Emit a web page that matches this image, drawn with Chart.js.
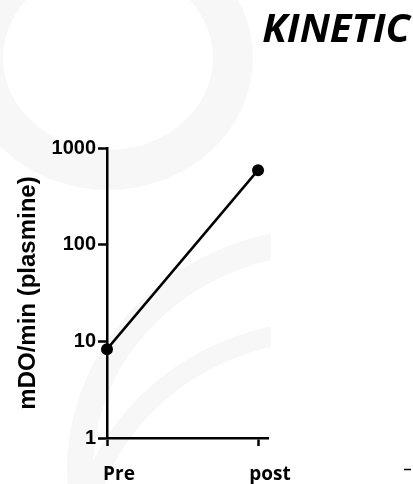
<!DOCTYPE html>
<html>
<head>
<meta charset="utf-8">
<script src="https://cdn.jsdelivr.net/npm/chart.js@4.4.1/dist/chart.umd.min.js"></script>
<style>
  html, body { margin: 0; padding: 0; background: #fff; }
  #wrap { width: 413px; height: 484px; position: relative; }
</style>
</head>
<body>
<div id="wrap"><canvas id="c" width="413" height="484"></canvas></div>
<script>
// Plasmin activity before and after
const categories = ['Pre', 'post'];
const activity = [8.3, 590];          // mDO/min
const yTicks = [1, 10, 100, 1000];
const chartTitle = 'KINETIC';
const yAxisTitle = 'mDO/min (plasmine)';

const BLACK = '#000000';
const AXIS_W = 2.5;

// faint swirl logo behind the plot
const backdrop = {
  id: 'backdrop',
  beforeDraw(chart) {
    const ctx = chart.ctx;
    ctx.save();
    ctx.fillStyle = '#ffffff';
    ctx.fillRect(0, 0, chart.width, chart.height);
    ctx.beginPath();
    ctx.rect(0, 0, 271, chart.height);
    ctx.clip();
    ctx.strokeStyle = '#f7f7f7';
    ctx.lineWidth = 40;
    ctx.beginPath();
    ctx.ellipse(108, 58, 125, 112, 0, 0, Math.PI * 2);
    ctx.stroke();
    ctx.lineWidth = 26;
    ctx.beginPath();
    ctx.ellipse(330, 470, 250, 230, 0, Math.PI * 0.95, Math.PI * 1.5);
    ctx.stroke();
    ctx.lineWidth = 20;
    ctx.beginPath();
    ctx.ellipse(330, 560, 250, 230, 0, Math.PI * 0.95, Math.PI * 1.5);
    ctx.stroke();
    ctx.fillStyle = '#ffffff';
    ctx.fillRect(222, 446, 50, 40);
    ctx.restore();
  }
};

// heading and the small mark in the lower right corner
const heading = {
  id: 'heading',
  afterDraw(chart) {
    const ctx = chart.ctx;
    ctx.save();
    ctx.fillStyle = BLACK;
    ctx.font = 'italic bold 40px "Open Sans"';
    ctx.textAlign = 'right';
    ctx.textBaseline = 'alphabetic';
    ctx.fillText(chartTitle, 410, 42);
    ctx.strokeStyle = BLACK;
    ctx.lineWidth = 1.5;
    ctx.beginPath();
    ctx.moveTo(404, 469.5);
    ctx.lineTo(411, 469.5);
    ctx.stroke();
    ctx.restore();
  }
};

new Chart(document.getElementById('c'), {
  type: 'line',
  data: {
    datasets: [{
      data: categories.map((c, i) => ({ x: i, y: activity[i] })),
      borderColor: BLACK,
      borderWidth: 2.5,
      backgroundColor: BLACK,
      pointBackgroundColor: BLACK,
      pointBorderColor: BLACK,
      pointRadius: 6,
      pointBorderWidth: 0,
      tension: 0,
      clip: false
    }]
  },
  options: {
    responsive: false,
    animation: false,
    events: [],
    layout: { padding: { left: 0, right: 145, top: 148, bottom: 0 } },
    plugins: { legend: { display: false }, tooltip: { enabled: false } },
    scales: {
      x: {
        type: 'linear',
        min: 0,
        max: 1.066,
        afterBuildTicks: s => { s.ticks = categories.map((_, i) => ({ value: i })); },
        afterFit: s => { s.height = 46; },
        border: { color: BLACK, width: AXIS_W },
        grid: { drawOnChartArea: false, color: BLACK, tickLength: 8, tickWidth: AXIS_W },
        ticks: {
          color: BLACK,
          autoSkip: false,
          maxRotation: 0,
          labelOffset: 12,
          padding: 17,
          font: { family: '"Open Sans"', weight: 'bold', size: 19 },
          callback: v => categories[v] ?? ''
        }
      },
      y: {
        type: 'logarithmic',
        min: 1,
        max: 1000,
        afterBuildTicks: s => { s.ticks = yTicks.map(v => ({ value: v })); },
        afterFit: s => { s.width = 107; },
        border: { color: BLACK, width: AXIS_W },
        grid: { drawOnChartArea: false, color: BLACK, tickLength: 9, tickWidth: AXIS_W },
        ticks: {
          color: BLACK,
          autoSkip: false,
          padding: 2,
          font: { family: '"Liberation Sans", Arial', weight: 'bold', size: 20 },
          callback: v => String(v)
        },
        title: {
          display: true,
          text: yAxisTitle,
          color: BLACK,
          font: { family: '"Liberation Sans", Arial', weight: 'bold', size: 24 },
          padding: { top: 14, bottom: 0 }
        }
      }
    }
  },
  plugins: [backdrop, heading]
});
</script>
</body>
</html>
